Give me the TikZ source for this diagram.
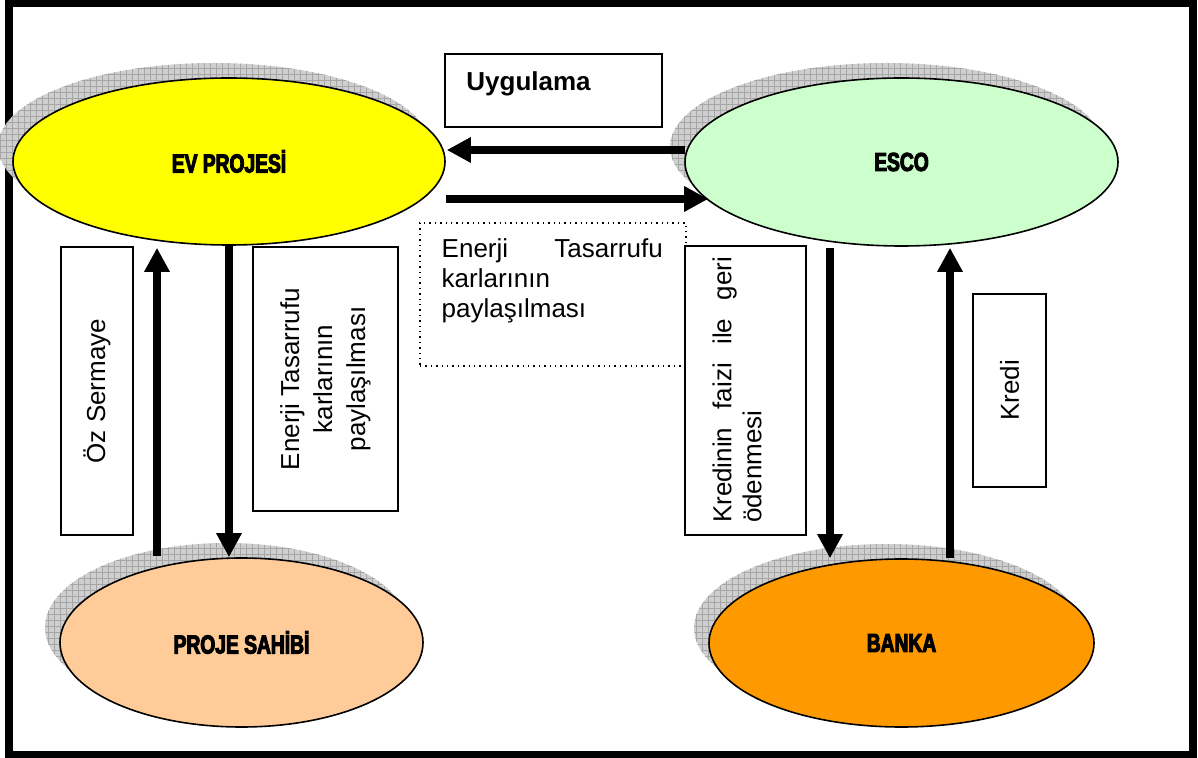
\documentclass[tikz,border=0pt]{standalone}
\usepackage{fontspec}
\setmainfont{Liberation Sans}
\newfontfamily\heavyfont[FakeStretch=0.74,FakeBold=4]{Liberation Sans}
\usetikzlibrary{shapes.geometric,arrows.meta,calc,shadows,patterns}

\definecolor{evyellow}{HTML}{FFFF00}
\definecolor{escogreen}{HTML}{CCFFCC}
\definecolor{ownerpeach}{HTML}{FFCC99}
\definecolor{bankorange}{HTML}{FF9900}

\tikzset{
  party/.style={ellipse, draw=black, line width=0.8pt, inner sep=0pt,
    font=\heavyfont\bfseries\fontsize{13}{15}\selectfont,
    general shadow={fill=gray!38, shadow xshift=-7.5pt, shadow yshift=7.5pt},
    general shadow={pattern=grid, pattern color=gray!70, shadow xshift=-7.5pt, shadow yshift=7.5pt}},
  labelbox/.style={draw=black, line width=1pt, fill=white, inner sep=0pt,
    font=\fontsize{13}{16.5}\selectfont},
  dotbox/.style={draw=black, line width=0.7pt, dotted, inner sep=0pt},
  flowtext/.style={inner sep=0pt, font=\fontsize{13}{15}\selectfont,
    align=justify, execute at begin node={\tolerance=10000\hyphenpenalty=10000}},
  bigarrow/.style={line width=4pt, -{Triangle[width=12pt,length=12pt]}}
}

\begin{document}
\begin{tikzpicture}[x=0.5pt,y=-0.5pt]
\useasboundingbox (0,0) rectangle (1198,758);

% outer frame
\draw[line width=3.75pt] (9,3.5) rectangle (1193,754.5);

% labels on the flows
\node[labelbox, minimum width=108.5pt, minimum height=36.5pt] (uyg) at (553.5,90.5) {};
\node[anchor=base west, inner sep=0pt, font=\bfseries\fontsize{13}{15}\selectfont]
  (uygt) at ($(uyg.north west)+(22,38)$) {Uygulama};

\node[dotbox, minimum width=133pt, minimum height=71.5pt] (shr) at (553,294.5) {};
\node[flowtext, text width=110.5pt, anchor=north west] (shrt)
  at ($(shr.north west)+(22,16)$) {Enerji Tasarrufu karlarının paylaşılması};

\node[labelbox, rotate=90, minimum width=144pt, minimum height=36pt] (oz) at (97,391) {Öz Sermaye};
\node[labelbox, rotate=90, minimum width=132pt, minimum height=72.5pt, align=center]
  (kar) at (325.5,379) {Enerji Tasarrufu\\karlarının\\paylaşılması};
\node[labelbox, rotate=90, minimum width=144.5pt, minimum height=60.5pt] (geri) at (745.5,390.5) {};
\node[flowtext, rotate=90, text width=133pt] (gerit) at (737,390) {Kredinin faizi ile geri ödenmesi};
\node[labelbox, rotate=90, minimum width=96.5pt, minimum height=36.5pt] (kredi) at (1009.5,390.5) {Kredi};

% the four parties
\node[party, fill=evyellow, minimum width=216pt, minimum height=83.5pt] (ev) at (229,161.5) {EV PROJESİ};
\node[party, fill=escogreen, minimum width=216.5pt, minimum height=84pt] (esco) at (901.5,162) {ESCO};
\node[party, fill=ownerpeach, minimum width=181.5pt, minimum height=84.5pt] (ps) at (241.5,642.5) {PROJE SAHİBİ};
\node[party, fill=bankorange, minimum width=192.5pt, minimum height=84pt] (banka) at (901.5,643) {BANKA};

% flows
\draw[bigarrow] ($(esco.west)+(1,-12)$) -- ($(ev.east)+(1,-11.5)$);
\draw[bigarrow] ($(ev.east)+(0,37.5)$) -- ($(esco.west)+(24,37)$);
\draw[bigarrow] ($(ps.north)+(-84.5,-1.5)$) -- ($(ev.south)+(-72,2)$);
\draw[bigarrow] (ev.south) -- (ev.south |- ps.north);
\draw[bigarrow] ($(esco.south)+(-71.5,1)$) -- ($(banka.north)+(-71.5,0)$);
\draw[bigarrow] ($(banka.north)+(48.5,0)$) -- ($(esco.south)+(48.5,1)$);
\end{tikzpicture}
\end{document}
